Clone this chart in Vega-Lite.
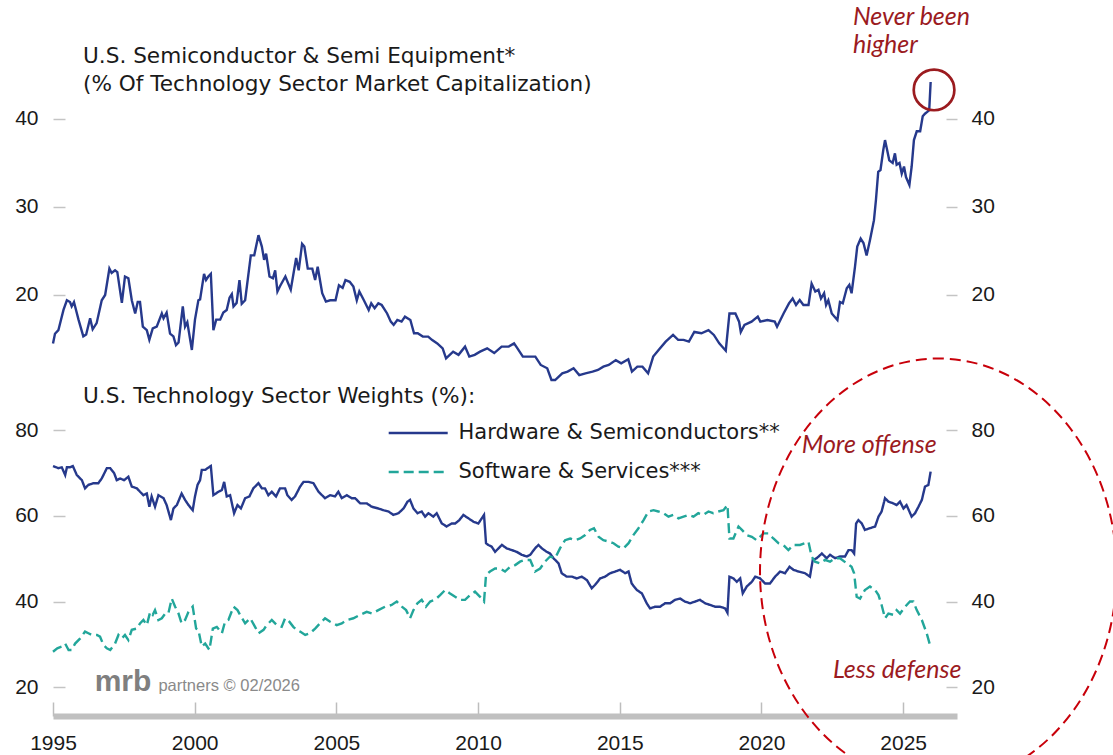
{
"$schema": "https://vega.github.io/schema/vega-lite/v6.json",
"width": 904, "height": 716,
"autosize": {"type": "none"},
"padding": {"left": 53, "top": 0, "right": 156, "bottom": 39},
"background": "white",
"config": {"view": {"stroke": null}, "axis": {"labelFont": "Liberation Sans", "labelFontSize": 21, "labelColor": "#1a1a1a", "grid": false}},
"datasets": {
"semis": [
{"t":1995.00,"v":14.5},{"t":1995.07,"v":15.6},{"t":1995.19,"v":16.0},{"t":1995.37,"v":18.3},{"t":1995.49,"v":19.4},{"t":1995.60,"v":19.2},{"t":1995.66,"v":18.7},{"t":1995.74,"v":19.2},{"t":1995.90,"v":17.2},{"t":1996.07,"v":15.3},{"t":1996.17,"v":15.5},{"t":1996.31,"v":17.35},{"t":1996.40,"v":16.1},{"t":1996.54,"v":16.8},{"t":1996.72,"v":19.4},{"t":1996.84,"v":20.0},{"t":1996.99,"v":23.0},{"t":1997.07,"v":22.5},{"t":1997.19,"v":22.8},{"t":1997.27,"v":22.6},{"t":1997.43,"v":19.1},{"t":1997.54,"v":22.1},{"t":1997.66,"v":21.9},{"t":1997.78,"v":19.4},{"t":1997.90,"v":17.9},{"t":1997.99,"v":19.2},{"t":1998.07,"v":19.2},{"t":1998.17,"v":16.4},{"t":1998.31,"v":16.0},{"t":1998.40,"v":14.9},{"t":1998.52,"v":16.2},{"t":1998.66,"v":16.4},{"t":1998.84,"v":17.9},{"t":1998.90,"v":17.35},{"t":1999.01,"v":18.0},{"t":1999.13,"v":15.6},{"t":1999.25,"v":15.3},{"t":1999.34,"v":14.3},{"t":1999.43,"v":14.6},{"t":1999.58,"v":18.7},{"t":1999.66,"v":16.4},{"t":1999.74,"v":16.9},{"t":1999.90,"v":13.75},{"t":2000.01,"v":17.2},{"t":2000.13,"v":19.4},{"t":2000.19,"v":19.5},{"t":2000.33,"v":22.4},{"t":2000.40,"v":21.7},{"t":2000.48,"v":22.1},{"t":2000.57,"v":22.4},{"t":2000.66,"v":16.0},{"t":2000.76,"v":17.2},{"t":2000.90,"v":17.2},{"t":2001.01,"v":18.0},{"t":2001.13,"v":18.3},{"t":2001.23,"v":19.7},{"t":2001.31,"v":20.1},{"t":2001.37,"v":18.7},{"t":2001.48,"v":19.1},{"t":2001.58,"v":21.7},{"t":2001.66,"v":19.0},{"t":2001.78,"v":19.4},{"t":2001.98,"v":24.5},{"t":2002.10,"v":24.5},{"t":2002.25,"v":26.8},{"t":2002.37,"v":25.5},{"t":2002.45,"v":24.0},{"t":2002.52,"v":24.7},{"t":2002.64,"v":22.1},{"t":2002.76,"v":21.9},{"t":2002.84,"v":22.8},{"t":2002.92,"v":20.4},{"t":2003.01,"v":21.0},{"t":2003.20,"v":22.1},{"t":2003.39,"v":20.6},{"t":2003.58,"v":24.2},{"t":2003.67,"v":22.8},{"t":2003.79,"v":25.8},{"t":2003.87,"v":25.5},{"t":2003.99,"v":23.0},{"t":2004.15,"v":23.0},{"t":2004.25,"v":21.7},{"t":2004.34,"v":23.2},{"t":2004.50,"v":20.2},{"t":2004.63,"v":19.25},{"t":2004.78,"v":19.4},{"t":2004.97,"v":19.4},{"t":2005.09,"v":21.1},{"t":2005.22,"v":20.8},{"t":2005.32,"v":21.7},{"t":2005.47,"v":21.5},{"t":2005.60,"v":20.95},{"t":2005.72,"v":19.4},{"t":2005.81,"v":20.4},{"t":2005.97,"v":19.4},{"t":2006.14,"v":18.3},{"t":2006.23,"v":19.05},{"t":2006.35,"v":18.5},{"t":2006.48,"v":19.05},{"t":2006.60,"v":18.86},{"t":2006.79,"v":17.9},{"t":2006.92,"v":16.97},{"t":2007.02,"v":16.6},{"t":2007.15,"v":17.16},{"t":2007.30,"v":16.97},{"t":2007.42,"v":17.54},{"t":2007.61,"v":17.16},{"t":2007.74,"v":15.65},{"t":2007.87,"v":15.65},{"t":2008.05,"v":15.27},{"t":2008.24,"v":15.27},{"t":2008.37,"v":14.9},{"t":2008.56,"v":14.5},{"t":2008.75,"v":13.94},{"t":2008.87,"v":12.8},{"t":2009.00,"v":13.2},{"t":2009.12,"v":13.56},{"t":2009.31,"v":13.2},{"t":2009.54,"v":14.13},{"t":2009.69,"v":13.0},{"t":2009.88,"v":13.2},{"t":2010.07,"v":13.56},{"t":2010.32,"v":13.94},{"t":2010.57,"v":13.4},{"t":2010.83,"v":14.13},{"t":2011.08,"v":14.13},{"t":2011.27,"v":14.5},{"t":2011.39,"v":13.94},{"t":2011.58,"v":13.0},{"t":2011.83,"v":13.0},{"t":2012.02,"v":13.0},{"t":2012.21,"v":12.05},{"t":2012.44,"v":11.67},{"t":2012.59,"v":10.34},{"t":2012.72,"v":10.34},{"t":2012.97,"v":11.1},{"t":2013.16,"v":11.29},{"t":2013.37,"v":11.67},{"t":2013.57,"v":10.9},{"t":2013.79,"v":11.1},{"t":2014.04,"v":11.29},{"t":2014.23,"v":11.48},{"t":2014.42,"v":11.86},{"t":2014.61,"v":12.05},{"t":2014.86,"v":12.6},{"t":2015.05,"v":12.24},{"t":2015.30,"v":12.69},{"t":2015.43,"v":11.29},{"t":2015.62,"v":11.86},{"t":2015.80,"v":11.86},{"t":2016.00,"v":11.1},{"t":2016.18,"v":13.0},{"t":2016.37,"v":13.75},{"t":2016.62,"v":14.7},{"t":2016.88,"v":15.46},{"t":2017.06,"v":14.9},{"t":2017.25,"v":14.9},{"t":2017.44,"v":14.7},{"t":2017.63,"v":15.8},{"t":2017.88,"v":15.65},{"t":2018.13,"v":16.0},{"t":2018.32,"v":15.46},{"t":2018.51,"v":14.5},{"t":2018.74,"v":13.67},{"t":2018.87,"v":17.9},{"t":2019.08,"v":17.9},{"t":2019.21,"v":16.97},{"t":2019.27,"v":15.8},{"t":2019.40,"v":16.6},{"t":2019.65,"v":16.97},{"t":2019.87,"v":17.54},{"t":2019.96,"v":16.97},{"t":2020.21,"v":17.16},{"t":2020.47,"v":16.97},{"t":2020.55,"v":16.4},{"t":2020.78,"v":17.9},{"t":2020.97,"v":19.05},{"t":2021.10,"v":19.6},{"t":2021.22,"v":18.86},{"t":2021.35,"v":19.43},{"t":2021.48,"v":18.86},{"t":2021.66,"v":18.86},{"t":2021.77,"v":21.3},{"t":2021.90,"v":20.4},{"t":2022.01,"v":20.6},{"t":2022.10,"v":19.6},{"t":2022.21,"v":20.2},{"t":2022.28,"v":18.86},{"t":2022.36,"v":19.4},{"t":2022.48,"v":17.9},{"t":2022.68,"v":17.16},{"t":2022.77,"v":19.2},{"t":2022.87,"v":19.05},{"t":2023.01,"v":20.76},{"t":2023.10,"v":21.14},{"t":2023.18,"v":20.2},{"t":2023.30,"v":23.2},{"t":2023.38,"v":25.5},{"t":2023.50,"v":26.4},{"t":2023.60,"v":25.9},{"t":2023.71,"v":24.5},{"t":2023.83,"v":26.25},{"t":2023.97,"v":28.5},{"t":2024.04,"v":30.8},{"t":2024.12,"v":34.0},{"t":2024.20,"v":34.2},{"t":2024.30,"v":36.5},{"t":2024.36,"v":37.6},{"t":2024.42,"v":36.7},{"t":2024.51,"v":35.3},{"t":2024.63,"v":35.0},{"t":2024.71,"v":36.1},{"t":2024.77,"v":34.8},{"t":2024.87,"v":35.0},{"t":2024.95,"v":33.8},{"t":2025.03,"v":34.6},{"t":2025.10,"v":33.4},{"t":2025.22,"v":32.5},{"t":2025.30,"v":34.6},{"t":2025.38,"v":37.6},{"t":2025.48,"v":38.6},{"t":2025.60,"v":38.6},{"t":2025.69,"v":40.3},{"t":2025.77,"v":40.6},{"t":2025.85,"v":40.8},{"t":2025.92,"v":41.0},{"t":2025.97,"v":44.2}
],
"w": [
{"s":"H","t":1995.00,"v":71.6},{"s":"H","t":1995.19,"v":71.1},{"s":"H","t":1995.31,"v":71.3},{"s":"H","t":1995.43,"v":69.5},{"s":"H","t":1995.49,"v":71.3},{"s":"H","t":1995.60,"v":71.3},{"s":"H","t":1995.70,"v":71.6},{"s":"H","t":1995.84,"v":69.5},{"s":"H","t":1996.02,"v":68.3},{"s":"H","t":1996.13,"v":66.4},{"s":"H","t":1996.25,"v":67.2},{"s":"H","t":1996.43,"v":67.6},{"s":"H","t":1996.60,"v":67.6},{"s":"H","t":1996.72,"v":68.7},{"s":"H","t":1996.90,"v":71.1},{"s":"H","t":1997.02,"v":71.1},{"s":"H","t":1997.16,"v":69.9},{"s":"H","t":1997.25,"v":68.3},{"s":"H","t":1997.37,"v":68.7},{"s":"H","t":1997.51,"v":68.3},{"s":"H","t":1997.66,"v":69.1},{"s":"H","t":1997.78,"v":66.8},{"s":"H","t":1997.96,"v":66.4},{"s":"H","t":1998.07,"v":65.6},{"s":"H","t":1998.19,"v":64.8},{"s":"H","t":1998.31,"v":65.2},{"s":"H","t":1998.40,"v":62.1},{"s":"H","t":1998.48,"v":64.5},{"s":"H","t":1998.60,"v":62.1},{"s":"H","t":1998.72,"v":64.8},{"s":"H","t":1998.90,"v":64.1},{"s":"H","t":1999.01,"v":62.5},{"s":"H","t":1999.16,"v":59.0},{"s":"H","t":1999.25,"v":61.7},{"s":"H","t":1999.37,"v":62.5},{"s":"H","t":1999.54,"v":65.2},{"s":"H","t":1999.66,"v":63.7},{"s":"H","t":1999.78,"v":62.5},{"s":"H","t":1999.93,"v":61.3},{"s":"H","t":2000.01,"v":64.5},{"s":"H","t":2000.10,"v":67.2},{"s":"H","t":2000.19,"v":68.3},{"s":"H","t":2000.25,"v":70.7},{"s":"H","t":2000.37,"v":70.7},{"s":"H","t":2000.45,"v":71.1},{"s":"H","t":2000.57,"v":71.6},{"s":"H","t":2000.66,"v":64.8},{"s":"H","t":2000.84,"v":65.6},{"s":"H","t":2000.96,"v":66.0},{"s":"H","t":2001.04,"v":67.9},{"s":"H","t":2001.13,"v":64.5},{"s":"H","t":2001.25,"v":64.8},{"s":"H","t":2001.39,"v":60.6},{"s":"H","t":2001.51,"v":62.5},{"s":"H","t":2001.63,"v":61.7},{"s":"H","t":2001.78,"v":64.1},{"s":"H","t":2001.93,"v":64.5},{"s":"H","t":2002.07,"v":66.4},{"s":"H","t":2002.25,"v":67.6},{"s":"H","t":2002.37,"v":66.4},{"s":"H","t":2002.48,"v":66.4},{"s":"H","t":2002.60,"v":64.8},{"s":"H","t":2002.72,"v":65.6},{"s":"H","t":2002.87,"v":64.5},{"s":"H","t":2003.01,"v":66.4},{"s":"H","t":2003.19,"v":66.4},{"s":"H","t":2003.27,"v":64.8},{"s":"H","t":2003.42,"v":63.7},{"s":"H","t":2003.54,"v":64.5},{"s":"H","t":2003.72,"v":66.8},{"s":"H","t":2003.84,"v":67.9},{"s":"H","t":2004.01,"v":67.9},{"s":"H","t":2004.19,"v":67.6},{"s":"H","t":2004.37,"v":65.6},{"s":"H","t":2004.60,"v":64.1},{"s":"H","t":2004.78,"v":64.8},{"s":"H","t":2004.95,"v":64.5},{"s":"H","t":2005.07,"v":65.6},{"s":"H","t":2005.19,"v":64.1},{"s":"H","t":2005.37,"v":64.8},{"s":"H","t":2005.54,"v":64.1},{"s":"H","t":2005.66,"v":64.1},{"s":"H","t":2005.84,"v":62.9},{"s":"H","t":2006.07,"v":62.9},{"s":"H","t":2006.25,"v":62.1},{"s":"H","t":2006.48,"v":61.7},{"s":"H","t":2006.66,"v":61.3},{"s":"H","t":2006.84,"v":61.0},{"s":"H","t":2007.01,"v":60.2},{"s":"H","t":2007.19,"v":60.6},{"s":"H","t":2007.37,"v":61.7},{"s":"H","t":2007.51,"v":63.3},{"s":"H","t":2007.60,"v":63.7},{"s":"H","t":2007.72,"v":61.7},{"s":"H","t":2007.86,"v":60.6},{"s":"H","t":2008.01,"v":61.0},{"s":"H","t":2008.13,"v":59.8},{"s":"H","t":2008.25,"v":60.6},{"s":"H","t":2008.42,"v":59.8},{"s":"H","t":2008.54,"v":60.6},{"s":"H","t":2008.72,"v":58.2},{"s":"H","t":2008.89,"v":57.5},{"s":"H","t":2009.07,"v":58.2},{"s":"H","t":2009.19,"v":58.2},{"s":"H","t":2009.34,"v":59.0},{"s":"H","t":2009.48,"v":60.2},{"s":"H","t":2009.66,"v":59.4},{"s":"H","t":2009.84,"v":58.6},{"s":"H","t":2010.01,"v":58.2},{"s":"H","t":2010.13,"v":59.4},{"s":"H","t":2010.21,"v":60.2},{"s":"H","t":2010.28,"v":53.6},{"s":"H","t":2010.36,"v":53.2},{"s":"H","t":2010.48,"v":52.8},{"s":"H","t":2010.60,"v":51.6},{"s":"H","t":2010.72,"v":52.4},{"s":"H","t":2010.84,"v":53.2},{"s":"H","t":2011.01,"v":52.4},{"s":"H","t":2011.19,"v":52.0},{"s":"H","t":2011.36,"v":51.6},{"s":"H","t":2011.54,"v":50.9},{"s":"H","t":2011.72,"v":50.5},{"s":"H","t":2011.84,"v":50.9},{"s":"H","t":2012.01,"v":52.4},{"s":"H","t":2012.13,"v":53.2},{"s":"H","t":2012.25,"v":52.4},{"s":"H","t":2012.42,"v":51.6},{"s":"H","t":2012.54,"v":51.2},{"s":"H","t":2012.66,"v":50.1},{"s":"H","t":2012.84,"v":48.9},{"s":"H","t":2012.95,"v":46.6},{"s":"H","t":2013.13,"v":45.8},{"s":"H","t":2013.31,"v":45.8},{"s":"H","t":2013.48,"v":45.4},{"s":"H","t":2013.66,"v":45.8},{"s":"H","t":2013.84,"v":45.0},{"s":"H","t":2014.01,"v":43.1},{"s":"H","t":2014.13,"v":43.9},{"s":"H","t":2014.31,"v":45.4},{"s":"H","t":2014.48,"v":45.8},{"s":"H","t":2014.66,"v":46.6},{"s":"H","t":2014.84,"v":47.0},{"s":"H","t":2015.01,"v":47.4},{"s":"H","t":2015.19,"v":46.6},{"s":"H","t":2015.31,"v":47.0},{"s":"H","t":2015.42,"v":44.2},{"s":"H","t":2015.60,"v":42.7},{"s":"H","t":2015.78,"v":41.9},{"s":"H","t":2015.95,"v":39.6},{"s":"H","t":2016.07,"v":38.4},{"s":"H","t":2016.25,"v":38.8},{"s":"H","t":2016.42,"v":38.8},{"s":"H","t":2016.60,"v":39.6},{"s":"H","t":2016.78,"v":39.6},{"s":"H","t":2016.95,"v":40.4},{"s":"H","t":2017.13,"v":40.7},{"s":"H","t":2017.30,"v":40.0},{"s":"H","t":2017.48,"v":39.6},{"s":"H","t":2017.66,"v":40.0},{"s":"H","t":2017.83,"v":40.4},{"s":"H","t":2018.01,"v":39.6},{"s":"H","t":2018.19,"v":39.2},{"s":"H","t":2018.36,"v":38.8},{"s":"H","t":2018.54,"v":38.8},{"s":"H","t":2018.72,"v":38.4},{"s":"H","t":2018.80,"v":37.4},{"s":"H","t":2018.87,"v":45.8},{"s":"H","t":2019.01,"v":45.4},{"s":"H","t":2019.13,"v":44.6},{"s":"H","t":2019.25,"v":45.4},{"s":"H","t":2019.34,"v":41.9},{"s":"H","t":2019.48,"v":43.5},{"s":"H","t":2019.66,"v":44.6},{"s":"H","t":2019.78,"v":45.8},{"s":"H","t":2019.95,"v":45.4},{"s":"H","t":2020.13,"v":44.2},{"s":"H","t":2020.30,"v":44.2},{"s":"H","t":2020.48,"v":45.8},{"s":"H","t":2020.66,"v":47.0},{"s":"H","t":2020.83,"v":46.6},{"s":"H","t":2020.99,"v":48.1},{"s":"H","t":2021.13,"v":47.4},{"s":"H","t":2021.30,"v":47.0},{"s":"H","t":2021.54,"v":46.6},{"s":"H","t":2021.71,"v":45.8},{"s":"H","t":2021.81,"v":49.7},{"s":"H","t":2021.95,"v":50.1},{"s":"H","t":2022.13,"v":51.2},{"s":"H","t":2022.30,"v":50.1},{"s":"H","t":2022.42,"v":50.9},{"s":"H","t":2022.60,"v":50.1},{"s":"H","t":2022.77,"v":50.5},{"s":"H","t":2022.95,"v":50.5},{"s":"H","t":2023.07,"v":52.0},{"s":"H","t":2023.18,"v":52.0},{"s":"H","t":2023.27,"v":51.2},{"s":"H","t":2023.34,"v":58.2},{"s":"H","t":2023.42,"v":59.0},{"s":"H","t":2023.54,"v":58.2},{"s":"H","t":2023.65,"v":56.7},{"s":"H","t":2023.83,"v":57.1},{"s":"H","t":2024.01,"v":57.5},{"s":"H","t":2024.13,"v":59.8},{"s":"H","t":2024.24,"v":61.0},{"s":"H","t":2024.36,"v":64.1},{"s":"H","t":2024.48,"v":63.3},{"s":"H","t":2024.65,"v":62.9},{"s":"H","t":2024.77,"v":62.5},{"s":"H","t":2024.89,"v":63.3},{"s":"H","t":2025.01,"v":61.7},{"s":"H","t":2025.12,"v":62.5},{"s":"H","t":2025.30,"v":59.8},{"s":"H","t":2025.42,"v":60.6},{"s":"H","t":2025.54,"v":62.1},{"s":"H","t":2025.66,"v":63.7},{"s":"H","t":2025.77,"v":66.8},{"s":"H","t":2025.89,"v":67.2},{"s":"H","t":2025.97,"v":70.3},
{"s":"S","t":1995.00,"v":28.3},{"s":"S","t":1995.15,"v":29.1},{"s":"S","t":1995.31,"v":29.5},{"s":"S","t":1995.43,"v":30.2},{"s":"S","t":1995.55,"v":28.7},{"s":"S","t":1995.66,"v":28.7},{"s":"S","t":1995.78,"v":30.2},{"s":"S","t":1995.96,"v":31.4},{"s":"S","t":1996.13,"v":33.0},{"s":"S","t":1996.25,"v":32.6},{"s":"S","t":1996.37,"v":32.2},{"s":"S","t":1996.55,"v":32.2},{"s":"S","t":1996.66,"v":31.8},{"s":"S","t":1996.78,"v":29.9},{"s":"S","t":1996.90,"v":29.1},{"s":"S","t":1997.02,"v":28.7},{"s":"S","t":1997.19,"v":30.2},{"s":"S","t":1997.31,"v":32.2},{"s":"S","t":1997.43,"v":31.4},{"s":"S","t":1997.54,"v":32.2},{"s":"S","t":1997.66,"v":31.0},{"s":"S","t":1997.78,"v":33.4},{"s":"S","t":1997.96,"v":33.7},{"s":"S","t":1998.07,"v":34.9},{"s":"S","t":1998.19,"v":35.7},{"s":"S","t":1998.31,"v":34.5},{"s":"S","t":1998.43,"v":37.6},{"s":"S","t":1998.52,"v":36.9},{"s":"S","t":1998.60,"v":38.0},{"s":"S","t":1998.72,"v":35.7},{"s":"S","t":1998.84,"v":36.1},{"s":"S","t":1998.96,"v":37.2},{"s":"S","t":1999.07,"v":37.2},{"s":"S","t":1999.19,"v":40.7},{"s":"S","t":1999.31,"v":38.8},{"s":"S","t":1999.43,"v":37.2},{"s":"S","t":1999.54,"v":34.9},{"s":"S","t":1999.66,"v":35.7},{"s":"S","t":1999.78,"v":37.6},{"s":"S","t":1999.93,"v":38.8},{"s":"S","t":2000.05,"v":33.7},{"s":"S","t":2000.13,"v":33.4},{"s":"S","t":2000.25,"v":29.5},{"s":"S","t":2000.37,"v":30.2},{"s":"S","t":2000.52,"v":28.7},{"s":"S","t":2000.64,"v":33.7},{"s":"S","t":2000.78,"v":34.1},{"s":"S","t":2000.96,"v":32.6},{"s":"S","t":2001.07,"v":35.3},{"s":"S","t":2001.19,"v":35.7},{"s":"S","t":2001.37,"v":38.8},{"s":"S","t":2001.51,"v":38.0},{"s":"S","t":2001.60,"v":36.9},{"s":"S","t":2001.78,"v":34.9},{"s":"S","t":2001.96,"v":36.1},{"s":"S","t":2002.13,"v":34.1},{"s":"S","t":2002.25,"v":32.6},{"s":"S","t":2002.43,"v":33.4},{"s":"S","t":2002.54,"v":34.5},{"s":"S","t":2002.72,"v":35.7},{"s":"S","t":2002.90,"v":34.5},{"s":"S","t":2003.07,"v":34.1},{"s":"S","t":2003.19,"v":36.1},{"s":"S","t":2003.34,"v":35.3},{"s":"S","t":2003.48,"v":34.1},{"s":"S","t":2003.60,"v":33.4},{"s":"S","t":2003.72,"v":33.0},{"s":"S","t":2003.90,"v":32.2},{"s":"S","t":2004.07,"v":32.6},{"s":"S","t":2004.25,"v":33.7},{"s":"S","t":2004.42,"v":34.9},{"s":"S","t":2004.60,"v":36.1},{"s":"S","t":2004.78,"v":35.3},{"s":"S","t":2005.01,"v":34.5},{"s":"S","t":2005.19,"v":34.9},{"s":"S","t":2005.37,"v":35.7},{"s":"S","t":2005.60,"v":36.1},{"s":"S","t":2005.84,"v":36.9},{"s":"S","t":2006.07,"v":37.6},{"s":"S","t":2006.25,"v":37.2},{"s":"S","t":2006.48,"v":38.0},{"s":"S","t":2006.72,"v":38.8},{"s":"S","t":2006.95,"v":39.2},{"s":"S","t":2007.13,"v":40.0},{"s":"S","t":2007.31,"v":38.8},{"s":"S","t":2007.46,"v":38.0},{"s":"S","t":2007.60,"v":36.1},{"s":"S","t":2007.72,"v":38.0},{"s":"S","t":2007.86,"v":39.6},{"s":"S","t":2008.01,"v":40.4},{"s":"S","t":2008.16,"v":38.8},{"s":"S","t":2008.31,"v":40.0},{"s":"S","t":2008.48,"v":40.4},{"s":"S","t":2008.66,"v":41.5},{"s":"S","t":2008.84,"v":42.7},{"s":"S","t":2009.01,"v":41.9},{"s":"S","t":2009.19,"v":41.1},{"s":"S","t":2009.36,"v":40.4},{"s":"S","t":2009.54,"v":40.4},{"s":"S","t":2009.72,"v":41.5},{"s":"S","t":2009.89,"v":42.3},{"s":"S","t":2010.07,"v":41.1},{"s":"S","t":2010.21,"v":40.0},{"s":"S","t":2010.28,"v":46.2},{"s":"S","t":2010.42,"v":47.0},{"s":"S","t":2010.60,"v":47.7},{"s":"S","t":2010.78,"v":47.7},{"s":"S","t":2010.95,"v":47.0},{"s":"S","t":2011.13,"v":48.1},{"s":"S","t":2011.31,"v":48.5},{"s":"S","t":2011.48,"v":49.3},{"s":"S","t":2011.66,"v":49.7},{"s":"S","t":2011.84,"v":49.7},{"s":"S","t":2012.01,"v":47.0},{"s":"S","t":2012.19,"v":47.7},{"s":"S","t":2012.36,"v":49.3},{"s":"S","t":2012.54,"v":50.5},{"s":"S","t":2012.72,"v":50.1},{"s":"S","t":2012.89,"v":52.4},{"s":"S","t":2013.07,"v":54.3},{"s":"S","t":2013.25,"v":54.7},{"s":"S","t":2013.42,"v":54.3},{"s":"S","t":2013.60,"v":54.7},{"s":"S","t":2013.78,"v":55.5},{"s":"S","t":2013.95,"v":56.7},{"s":"S","t":2014.09,"v":57.1},{"s":"S","t":2014.25,"v":55.1},{"s":"S","t":2014.42,"v":54.3},{"s":"S","t":2014.60,"v":54.0},{"s":"S","t":2014.78,"v":53.6},{"s":"S","t":2014.95,"v":52.8},{"s":"S","t":2015.13,"v":52.4},{"s":"S","t":2015.31,"v":53.6},{"s":"S","t":2015.48,"v":55.5},{"s":"S","t":2015.66,"v":57.1},{"s":"S","t":2015.84,"v":59.0},{"s":"S","t":2016.01,"v":61.0},{"s":"S","t":2016.19,"v":61.3},{"s":"S","t":2016.36,"v":61.0},{"s":"S","t":2016.54,"v":60.6},{"s":"S","t":2016.72,"v":59.8},{"s":"S","t":2016.89,"v":60.2},{"s":"S","t":2017.07,"v":59.4},{"s":"S","t":2017.25,"v":59.8},{"s":"S","t":2017.42,"v":60.2},{"s":"S","t":2017.60,"v":59.8},{"s":"S","t":2017.77,"v":60.6},{"s":"S","t":2017.95,"v":60.2},{"s":"S","t":2018.13,"v":61.0},{"s":"S","t":2018.30,"v":60.6},{"s":"S","t":2018.48,"v":61.0},{"s":"S","t":2018.66,"v":61.3},{"s":"S","t":2018.80,"v":62.5},{"s":"S","t":2018.87,"v":54.7},{"s":"S","t":2019.01,"v":54.7},{"s":"S","t":2019.19,"v":57.5},{"s":"S","t":2019.31,"v":56.7},{"s":"S","t":2019.48,"v":55.5},{"s":"S","t":2019.66,"v":55.1},{"s":"S","t":2019.83,"v":54.3},{"s":"S","t":2020.07,"v":55.9},{"s":"S","t":2020.24,"v":55.9},{"s":"S","t":2020.42,"v":54.7},{"s":"S","t":2020.60,"v":53.6},{"s":"S","t":2020.77,"v":53.2},{"s":"S","t":2020.95,"v":52.0},{"s":"S","t":2021.13,"v":53.2},{"s":"S","t":2021.36,"v":53.2},{"s":"S","t":2021.54,"v":53.6},{"s":"S","t":2021.66,"v":53.9},{"s":"S","t":2021.77,"v":50.5},{"s":"S","t":2021.89,"v":49.3},{"s":"S","t":2022.07,"v":48.9},{"s":"S","t":2022.24,"v":49.7},{"s":"S","t":2022.42,"v":49.3},{"s":"S","t":2022.60,"v":50.1},{"s":"S","t":2022.77,"v":50.1},{"s":"S","t":2023.01,"v":48.9},{"s":"S","t":2023.18,"v":48.1},{"s":"S","t":2023.27,"v":46.6},{"s":"S","t":2023.36,"v":41.1},{"s":"S","t":2023.48,"v":40.7},{"s":"S","t":2023.65,"v":42.7},{"s":"S","t":2023.83,"v":43.5},{"s":"S","t":2024.01,"v":42.7},{"s":"S","t":2024.13,"v":41.5},{"s":"S","t":2024.24,"v":39.2},{"s":"S","t":2024.36,"v":36.1},{"s":"S","t":2024.48,"v":37.2},{"s":"S","t":2024.65,"v":36.9},{"s":"S","t":2024.77,"v":38.0},{"s":"S","t":2024.89,"v":37.2},{"s":"S","t":2025.07,"v":38.8},{"s":"S","t":2025.24,"v":40.0},{"s":"S","t":2025.36,"v":40.0},{"s":"S","t":2025.48,"v":38.0},{"s":"S","t":2025.66,"v":35.7},{"s":"S","t":2025.83,"v":32.6},{"s":"S","t":2025.95,"v":29.8}
]
},
"encoding": {"x": {"field": "t", "type": "quantitative", "scale": {"domain": [1995, 2026.9], "nice": false, "zero": false}, "axis": {"values": [1995,2000,2005,2010,2015,2020,2025], "format": "d", "title": null, "domainColor": "#c0c0c0", "domainWidth": 6, "domainCap": "butt", "tickColor": "#bdbdbd", "tickWidth": 1.5, "tickSize": -14, "labelPadding": 30, "labelFlush": false}}},
"layer": [
{"data": {"name": "semis"}, "mark": {"type": "line", "color": "#26398c", "strokeWidth": 2.4},
 "encoding": {"y": {"field": "v", "type": "quantitative", "scale": {"domain": [-27.84, 53.52], "nice": false, "zero": false}, "axis": {"orient": "left", "values": [20,30,40], "title": null, "domain": false, "offset": -12, "tickSize": 12, "tickColor": "#c4c4c4", "tickWidth": 1.5, "labelPadding": 15}}}},
{"data": {"values": [{"t": 2026.09, "v": 43.3}]}, "mark": {"type": "point", "shape": "circle", "size": 1650, "filled": false, "stroke": "#9b1b1f", "strokeWidth": 2.7, "opacity": 1},
 "encoding": {"y": {"field": "v", "type": "quantitative", "scale": {"domain": [-27.84, 53.52], "nice": false, "zero": false}, "axis": {"orient": "right", "values": [20,30,40], "title": null, "domain": false, "offset": -11, "tickSize": 11, "tickColor": "#c4c4c4", "tickWidth": 1.5, "labelPadding": 14}}}},
{"data": {"name": "w"}, "mark": {"type": "line", "strokeWidth": 2.4},
 "encoding": {"y": {"field": "v", "type": "quantitative", "scale": {"domain": [13.31, 180.27], "nice": false, "zero": false}, "axis": {"orient": "left", "values": [20,40,60,80], "title": null, "domain": false, "offset": -12, "tickSize": 12, "tickColor": "#c4c4c4", "tickWidth": 1.5, "labelPadding": 15}},
  "color": {"field": "s", "type": "nominal", "scale": {"domain": ["H","S"], "range": ["#26398c","#22a69a"]}, "legend": {"title": null, "orient": "none", "legendX": 353.7, "legendY": 421.5, "direction": "vertical", "symbolType": "M-3,0H3", "symbolSize": 387, "symbolStrokeWidth": 2.5, "labelFont": "DejaVu Sans", "labelFontSize": 21, "labelColor": "#1a1a1a", "labelOffset": 28.8, "rowPadding": 17, "padding": 0, "labelLimit": 600, "labelExpr": "datum.value == 'H' ? 'Hardware & Semiconductors**' : 'Software & Services***'"}},
  "strokeDash": {"field": "s", "type": "nominal", "scale": {"domain": ["H","S"], "range": [[1,0],[10,5]]}, "legend": {"title": null, "orient": "none", "legendX": 353.7, "legendY": 421.5, "direction": "vertical", "symbolType": "M-3,0H3", "symbolSize": 387, "symbolStrokeWidth": 2.5, "labelFont": "DejaVu Sans", "labelFontSize": 21, "labelColor": "#1a1a1a", "labelOffset": 28.8, "rowPadding": 17, "padding": 0, "labelLimit": 600, "labelExpr": "datum.value == 'H' ? 'Hardware & Semiconductors**' : 'Software & Services***'"}}}},
{"data": {"values": [{"t": 2026.24, "v": 47.0}]}, "mark": {"type": "point", "shape": "M0.837,0C0.837,0.5523,0.4623,1,0,1C-0.4623,1,-0.837,0.5523,-0.837,0C-0.837,-0.5523,-0.4623,-1,0,-1C0.4623,-1,0.837,-0.5523,0.837,0Z", "size": 181476, "filled": false, "stroke": "#c8000a", "strokeWidth": 2, "strokeDash": [11, 6], "opacity": 1},
 "encoding": {"y": {"field": "v", "type": "quantitative", "scale": {"domain": [13.31, 180.27], "nice": false, "zero": false}, "axis": {"orient": "right", "values": [20,40,60,80], "title": null, "domain": false, "offset": -11, "tickSize": 11, "tickColor": "#c4c4c4", "tickWidth": 1.5, "labelPadding": 14}}}},
{"data": {"values": [{"t": 1996.06, "v": 46.36, "label": "U.S. Semiconductor & Semi Equipment*"}, {"t": 1996.06, "v": 43.18, "label": "(% Of Technology Sector Market Capitalization)"}, {"t": 1996.06, "v": 7.73, "label": "U.S. Technology Sector Weights (%):"}]},
 "mark": {"type": "text", "align": "left", "baseline": "alphabetic", "font": "DejaVu Sans", "fontSize": 21.6, "color": "#1a1a1a"},
 "encoding": {"y": {"field": "v", "type": "quantitative", "scale": {"domain": [-27.84, 53.52], "nice": false, "zero": false}, "axis": null}, "text": {"field": "label"}}},
{"data": {"values": [{"t": 2023.23, "v": 50.68, "label": "Never been"}, {"t": 2023.23, "v": 47.5, "label": "higher"}, {"t": 2021.42, "v": 2.08, "label": "More offense"}, {"t": 2022.52, "v": -23.49, "label": "Less defense"}]},
 "mark": {"type": "text", "align": "left", "baseline": "alphabetic", "font": "Lato", "fontStyle": "italic", "fontSize": 25, "color": "#9b1b1f"},
 "encoding": {"y": {"field": "v", "type": "quantitative", "scale": {"domain": [-27.84, 53.52], "nice": false, "zero": false}, "axis": null}, "text": {"field": "label"}}},
{"data": {"values": [{"t": 1996.47, "v": -25.0, "label": "mrb"}]},
 "mark": {"type": "text", "align": "left", "baseline": "alphabetic", "font": "Liberation Sans", "fontWeight": "bold", "fontSize": 30, "color": "#7f7f7f"},
 "encoding": {"y": {"field": "v", "type": "quantitative", "scale": {"domain": [-27.84, 53.52], "nice": false, "zero": false}, "axis": null}, "text": {"field": "label"}}},
{"data": {"values": [{"t": 1998.72, "v": -25.0, "label": "partners © 02/2026"}]},
 "mark": {"type": "text", "align": "left", "baseline": "alphabetic", "font": "Liberation Sans", "fontSize": 16.5, "color": "#8a8a8a"},
 "encoding": {"y": {"field": "v", "type": "quantitative", "scale": {"domain": [-27.84, 53.52], "nice": false, "zero": false}, "axis": null}, "text": {"field": "label"}}}
],
"resolve": {"scale": {"y": "independent"}, "axis": {"y": "independent"}}
}
